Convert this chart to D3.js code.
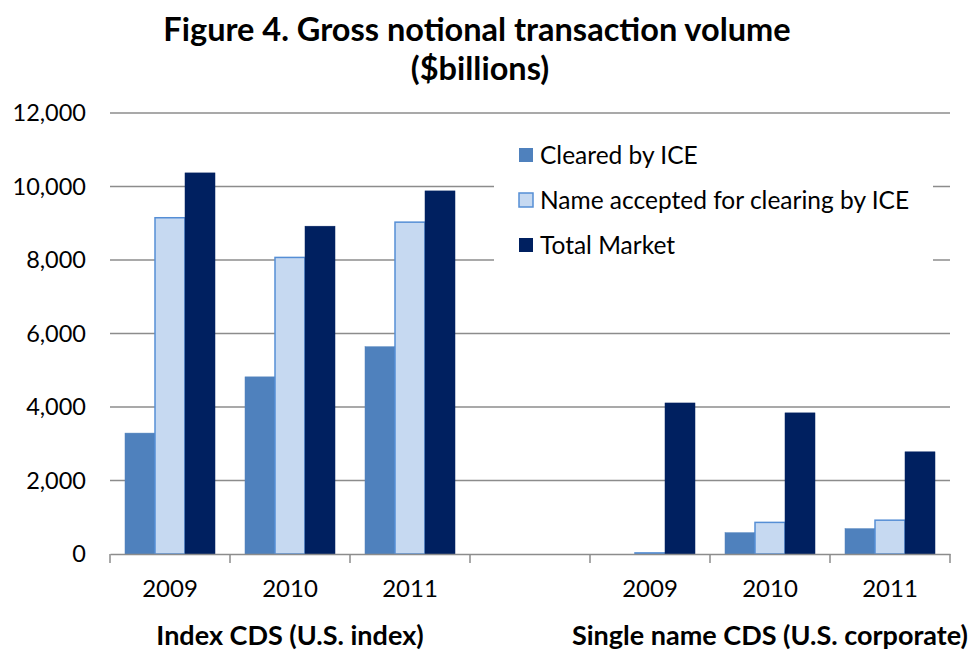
<!DOCTYPE html>
<html>
<head>
<meta charset="utf-8">
<script src="https://cdn.jsdelivr.net/npm/d3@7"></script>
<style>
  body { margin: 0; background: #fff; }
  text { font-family: Lato, "Open Sans", sans-serif; fill: #000; }
</style>
</head>
<body>
<div id="chart"></div>
<script>
// categories (one empty slot between the two groups)
var categories = ["i2009", "i2010", "i2011", "gap", "s2009", "s2010", "s2011"];
var tickLabels = ["2009", "2010", "2011", "", "2009", "2010", "2011"];
var seriesNames = ["Cleared by ICE", "Name accepted for clearing by ICE", "Total Market"];

// values in $billions
var cleared  = [3290, 4820, 5640, null, 0, 580, 690];
var accepted = [9150, 8070, 9030, null, 30, 860, 920];
var total    = [10370, 8920, 9880, null, 4110, 3840, 2780];

var yTicks = [0, 2000, 4000, 6000, 8000, 10000, 12000];

var groupLabels = [
    {text: "Index CDS (U.S. index)", from: "i2009", to: "i2011"},
    {text: "Single name CDS (U.S. corporate)", from: "s2009", to: "s2011"}
];

var fills   = ["#4f81bd", "#c6d9f1", "#002060"];
var strokes = ["#4f81bd", "#558ed5", "#002060"];

// set the dimensions and margins of the graph
var W = 972, H = 658;
var margin = {top: 113, right: 22, bottom: 104, left: 110},
    width = W - margin.left - margin.right,
    height = H - margin.top - margin.bottom;

var svg = d3.select("#chart")
  .append("svg")
    .attr("width", W)
    .attr("height", H);

var g = svg.append("g")
    .attr("transform", "translate(" + margin.left + "," + margin.top + ")");

// title
svg.append("text")
    .attr("x", 477).attr("y", 41)
    .attr("text-anchor", "middle")
    .style("font-size", "32.5px").style("font-weight", "bold")
    .text("Figure 4. Gross notional transaction volume");
svg.append("text")
    .attr("x", 480).attr("y", 80)
    .attr("text-anchor", "middle")
    .style("font-size", "32.5px").style("font-weight", "bold")
    .text("($billions)");

// scales
var x0 = d3.scaleBand()
    .domain(categories)
    .range([0, width])
    .padding(0);

var x1 = d3.scaleBand()
    .domain([0, 1, 2])
    .range([0, x0.bandwidth()])
    .paddingInner(0)
    .paddingOuter(0.5);

var y = d3.scaleLinear()
    .domain([0, 12000])
    .range([height, 0]);

// gridlines
g.append("g")
    .selectAll("line")
    .data(yTicks.slice(1))
    .enter().append("line")
    .attr("x1", 0).attr("x2", width)
    .attr("y1", function(d) { return y(d); })
    .attr("y2", function(d) { return y(d); })
    .attr("stroke", "#8c8c8c")
    .attr("stroke-width", 1.5);

// Y axis
var yAxis = g.append("g")
    .call(d3.axisLeft(y).tickValues(yTicks).tickSize(0).tickPadding(24)
        .tickFormat(d3.format(",")));
yAxis.select(".domain").remove();
yAxis.selectAll("text").style("font-size", "23.5px");

// bars
var seriesData = [cleared, accepted, total];
var rows = [];
categories.forEach(function(c, i) {
    seriesData.forEach(function(s, k) {
        if (s[i] != null) rows.push({cat: c, k: k, v: s[i]});
    });
});

g.append("g")
    .selectAll("rect")
    .data(rows)
    .enter().append("rect")
    .attr("x", function(d) { return x0(d.cat) + x1(d.k); })
    .attr("y", function(d) { return y(d.v); })
    .attr("width", x1.bandwidth())
    .attr("height", function(d) { return height - y(d.v); })
    .attr("fill", function(d) { return fills[d.k]; })
    .attr("stroke", function(d) { return strokes[d.k]; })
    .attr("stroke-width", function(d) { return d.k == 1 ? 1.5 : 0.5; });

// X axis: labels centred, tick marks at category edges
var xAxis = g.append("g")
    .attr("transform", "translate(0," + height + ")")
    .call(d3.axisBottom(x0).tickSize(0).tickPadding(26)
        .tickFormat(function(d, i) { return tickLabels[i]; }));
xAxis.select(".domain").attr("stroke", "#8c8c8c").attr("stroke-width", 1.5);
xAxis.selectAll("text").style("font-size", "24px");

var edges = categories.map(function(c) { return x0(c); }).concat([width]);
xAxis.selectAll(".edge")
    .data(edges)
    .enter().append("line")
    .attr("class", "edge")
    .attr("x1", function(d) { return d; }).attr("x2", function(d) { return d; })
    .attr("y1", 0).attr("y2", 9)
    .attr("stroke", "#8c8c8c")
    .attr("stroke-width", 1.5);

// group labels
g.selectAll(".grp")
    .data(groupLabels)
    .enter().append("text")
    .attr("class", "grp")
    .attr("x", function(d) { return (x0(d.from) + x0(d.to) + x0.bandwidth()) / 2; })
    .attr("y", height + 91)
    .attr("text-anchor", "middle")
    .style("font-size", "27px").style("font-weight", "bold")
    .text(function(d) { return d.text; });

// legend
var legend = svg.append("g")
    .attr("transform", "translate(494,124)");
legend.append("rect")
    .attr("width", 439).attr("height", 146)
    .attr("fill", "#fff");
var item = legend.selectAll(".item")
    .data(seriesNames)
    .enter().append("g")
    .attr("class", "item")
    .attr("transform", function(d, i) { return "translate(25," + (31 + i * 45) + ")"; });
item.append("rect")
    .attr("x", 0).attr("y", -7)
    .attr("width", 14).attr("height", 14)
    .attr("fill", function(d, i) { return fills[i]; })
    .attr("stroke", function(d, i) { return strokes[i]; })
    .attr("stroke-width", function(d, i) { return i == 1 ? 1.5 : 0; });
item.append("text")
    .attr("x", 21).attr("y", 0)
    .attr("dy", "0.35em")
    .style("font-size", "24.5px")
    .text(function(d) { return d; });
</script>
</body>
</html>
